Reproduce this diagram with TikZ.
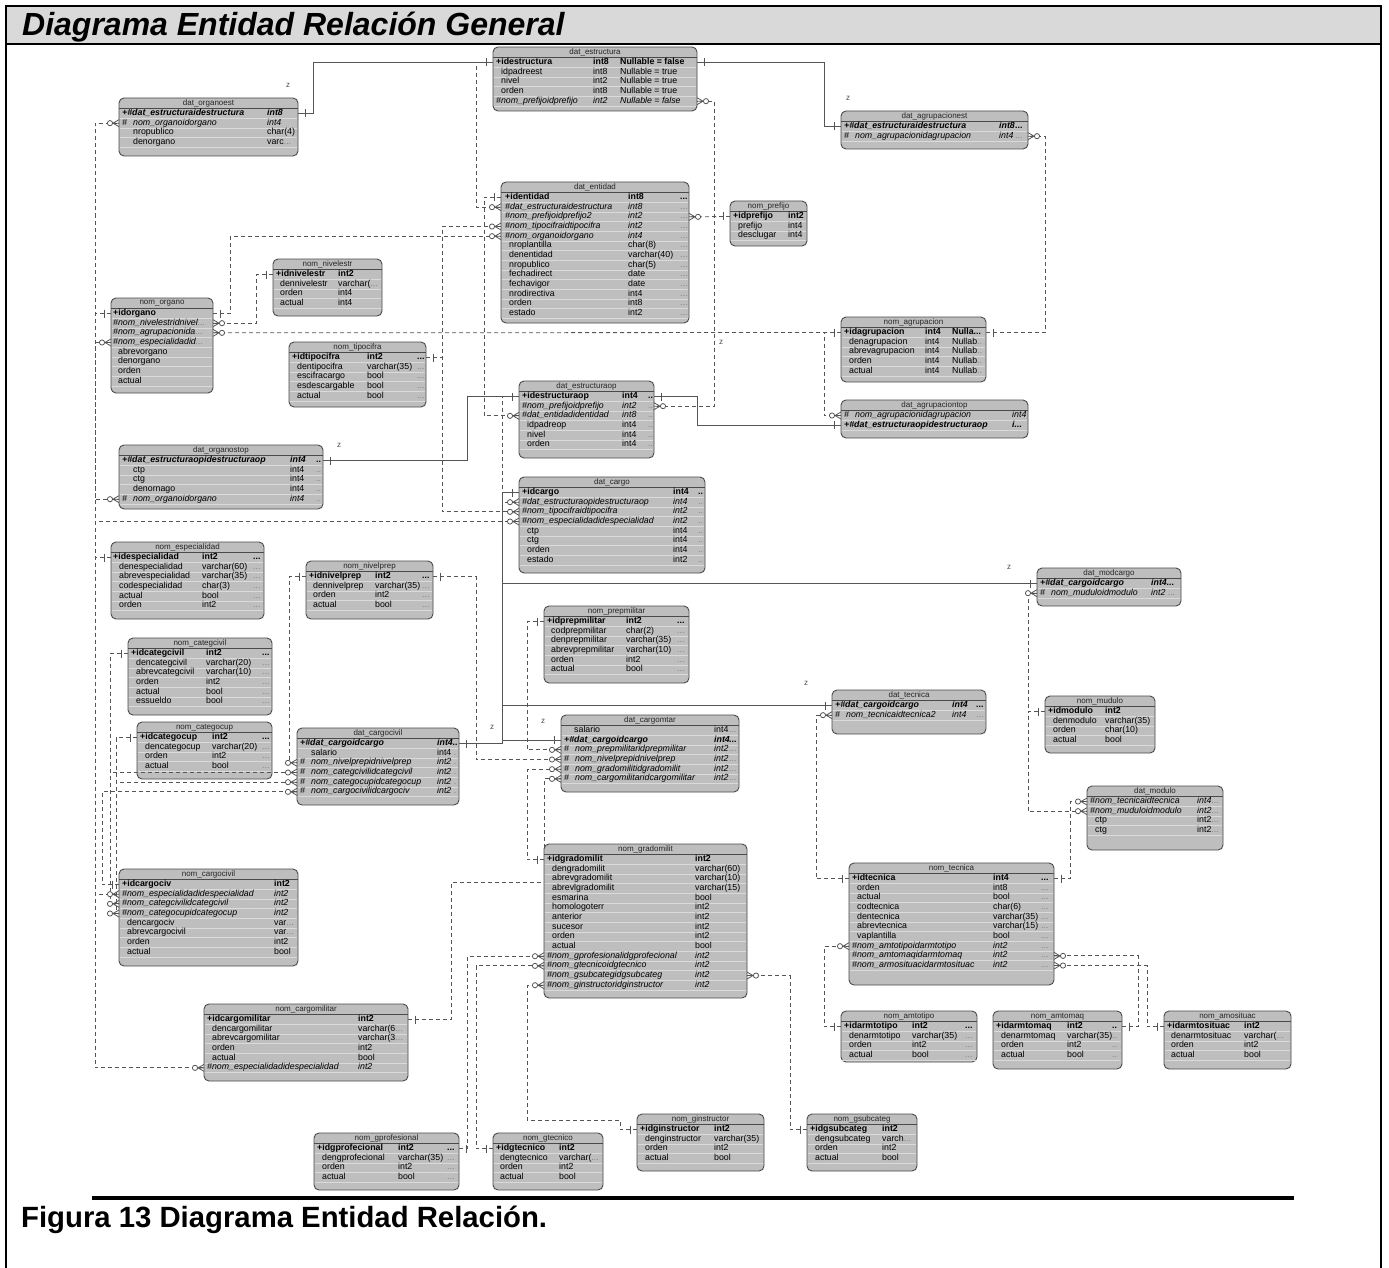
\documentclass[tikz,border=0pt]{standalone}
\usepackage{fontspec}
\setmainfont{Liberation Sans}
\usetikzlibrary{positioning,backgrounds}
\definecolor{boxgray}{HTML}{BEBEBE}
\definecolor{edgegray}{HTML}{4A4A4A}
\definecolor{stripe}{HTML}{DADADA}
\definecolor{linkgray}{HTML}{555555}
\definecolor{bandgray}{HTML}{D9D9D9}
\definecolor{dotgray}{HTML}{808080}

\newcommand{\pk}[1]{\textbf{#1}}
\newcommand{\fk}[1]{\textit{#1}}
\newcommand{\pfk}[1]{\textbf{\textit{#1}}}
\newcommand{\gd}[1]{\textcolor{dotgray}{#1}}
\newcommand{\hsh}{\makebox[11pt][l]{\#}}

% one table: name, left, top, right, bottom, type column, extra column
\newcommand{\erentity}[7]{%
    \node[entityBox, minimum width=#4pt-#2pt, minimum height=#5pt-#3pt] (#1) at (#2,#3) {};
    \node[headStyle] (#1-head) at ({(#2+#4)/2},{#3+5.5}) {\detokenize{#1}};
    \draw[headRule] (#2,{#3+10.8}) -- (#4,{#3+10.8});
    \gdef\curent{#1}\gdef\curleft{#2}\gdef\curtop{#3}\gdef\curright{#4}%
    \gdef\curtype{#6}\gdef\curextra{#7}%
}
% one row: index, name offset, name, type, extra
\newcommand{\erow}[5]{%
    \pgfmathsetmacro{\rowy}{\curtop+15.5+#1*9.67}%
    \draw[rowRule] ({\curleft+1},{\rowy+4.8}) -- ({\curright-1},{\rowy+4.8});
    \node[rowStyle] (\curent-#1) at ({\curleft+#2},\rowy) {#3};
    \ifx&#4&\else\node[rowStyle] (\curent-#1-t) at (\curtype,\rowy) {#4};\fi
    \ifx&#5&\else\node[rowStyle] (\curent-#1-x) at (\curextra,\rowy) {#5};\fi
}
\newcommand{\manymark}[2]{%
    \begin{scope}[shift={(#1)}, xscale=#2]
        \draw[markStyle] (0,-3.5) -- (6,0) -- (0,3.5) (0,0) -- (6,0);
        \draw[markStyle, fill=white] (9,0) circle (2.6pt);
    \end{scope}}
\newcommand{\onemark}[2]{%
    \begin{scope}[shift={(#1)}, xscale=#2]
        \draw[markStyle] (7,-4) -- (7,4);
    \end{scope}}

\begin{document}
\begin{tikzpicture}[
    x=1pt, y=-1pt,
    entityBox/.style={rectangle, rounded corners=5pt, draw=edgegray, fill=boxgray, line width=0.9pt, anchor=north west, inner sep=0pt, outer sep=0pt},
    headStyle/.style={inner sep=0pt, font=\fontsize{8}{9}\selectfont, text=black!85},
    headRule/.style={draw=edgegray, line width=1pt},
    rowRule/.style={draw=stripe, line width=0.8pt},
    rowStyle/.style={anchor=west, inner sep=0pt, font=\fontsize{8.8}{9}\selectfont, text height=6pt, text depth=1.8pt},
    idLine/.style={draw=linkgray, line width=1pt},
    fkLine/.style={draw=linkgray, line width=0.8pt, dash pattern=on 4pt off 3pt},
    markStyle/.style={draw=linkgray, line width=0.8pt},
    zStyle/.style={inner sep=0pt, font=\fontsize{8}{9}\selectfont, text=black!70}
]
    \useasboundingbox (0,0) rectangle (1389,1268);

    \node[anchor=base west, inner sep=0pt, font=\fontsize{32}{34}\selectfont\bfseries\itshape] (title) at (22,36) {Diagrama Entidad Relación General};
    \node[anchor=base west, inner sep=0pt, font=\fontsize{29.3}{31}\selectfont\bfseries] (caption) at (21,1227) {Figura 13 Diagrama Entidad Relación.};
    \draw[line width=4.5pt] (92,1198) -- (1294,1198);

    % ---- tables ----
    \erentity{dat_estructura}{493}{47}{697}{111}{593}{620}
    \erow{0}{3}{\pk{+idestructura}}{\pk{int8}}{\pk{Nullable = false}}
    \erow{1}{8}{idpadreest}{int8}{Nullable = true}
    \erow{2}{8}{nivel}{int2}{Nullable = true}
    \erow{3}{8}{orden}{int8}{Nullable = true}
    \erow{4}{3}{\fk{\#nom\_prefijoidprefijo}}{\fk{int2}}{\fk{Nullable = false}}

    \erentity{dat_organoest}{119}{98}{298}{156}{267}{0}
    \erow{0}{3}{\pfk{+\#dat\_estructuraidestructura}}{\pfk{int8}}{}
    \erow{1}{3}{\fk{\hsh nom\_organoidorgano}}{\fk{int4}}{}
    \erow{2}{14}{nropublico}{char(4)}{}
    \erow{3}{14}{denorgano}{varc\gd{...}}{}

    \erentity{dat_agrupacionest}{841}{111}{1028}{149}{999}{1015}
    \erow{0}{3}{\pfk{+\#dat\_estructuraidestructura}}{\pfk{int8}}{\pk{...}}
    \erow{1}{3}{\fk{\hsh nom\_agrupacionidagrupacion}}{\fk{int4}}{\gd{...}}

    \erentity{dat_entidad}{501}{182}{689}{323}{628}{680}
    \erow{0}{4}{\pk{+identidad}}{\pk{int8}}{\pk{...}}
    \erow{1}{4}{\fk{\#dat\_estructuraidestructura}}{\fk{int8}}{\gd{...}}
    \erow{2}{4}{\fk{\#nom\_prefijoidprefijo2}}{\fk{int2}}{\gd{...}}
    \erow{3}{4}{\fk{\#nom\_tipocifraidtipocifra}}{\fk{int2}}{\gd{...}}
    \erow{4}{4}{\fk{\#nom\_organoidorgano}}{\fk{int4}}{\gd{...}}
    \erow{5}{8}{nroplantilla}{char(8)}{\gd{...}}
    \erow{6}{8}{denentidad}{varchar(40)}{\gd{...}}
    \erow{7}{8}{nropublico}{char(5)}{\gd{...}}
    \erow{8}{8}{fechadirect}{date}{\gd{...}}
    \erow{9}{8}{fechavigor}{date}{\gd{...}}
    \erow{10}{8}{nrodirectiva}{int4}{\gd{...}}
    \erow{11}{8}{orden}{int8}{\gd{...}}
    \erow{12}{8}{estado}{int2}{\gd{...}}

    \erentity{nom_prefijo}{730}{201}{807}{246}{788}{0}
    \erow{0}{3}{\pk{+idprefijo}}{\pk{int2}}{}
    \erow{1}{8}{prefijo}{int4}{}
    \erow{2}{8}{desclugar}{int4}{}

    \erentity{nom_nivelestr}{273}{259}{382}{316}{338}{0}
    \erow{0}{3}{\pk{+idnivelestr}}{\pk{int2}}{}
    \erow{1}{7}{dennivelestr}{varchar(\gd{...}}{}
    \erow{2}{7}{orden}{int4}{}
    \erow{3}{7}{actual}{int4}{}

    \erentity{nom_organo}{111}{298}{213}{393}{0}{0}
    \erow{0}{2}{\pk{+idorgano}}{}{}
    \erow{1}{2}{\fk{\#nom\_nivelestridnivel\gd{...}}}{}{}
    \erow{2}{2}{\fk{\#nom\_agrupacionida\gd{...}}}{}{}
    \erow{3}{2}{\fk{\#nom\_especialidadid\gd{...}}}{}{}
    \erow{4}{7}{abrevorgano}{}{}
    \erow{5}{7}{denorgano}{}{}
    \erow{6}{7}{orden}{}{}
    \erow{7}{7}{actual}{}{}

    \erentity{nom_tipocifra}{289}{342}{426}{407}{367}{417}
    \erow{0}{3}{\pk{+idtipocifra}}{\pk{int2}}{\pk{...}}
    \erow{1}{8}{dentipocifra}{varchar(35)}{\gd{...}}
    \erow{2}{8}{escifracargo}{bool}{\gd{...}}
    \erow{3}{8}{esdescargable}{bool}{\gd{...}}
    \erow{4}{8}{actual}{bool}{\gd{...}}

    \erentity{nom_agrupacion}{841}{317}{986}{382}{925}{952}
    \erow{0}{3}{\pk{+idagrupacion}}{\pk{int4}}{\pk{Nulla...}}
    \erow{1}{8}{denagrupacion}{int4}{Nullab\gd{..}}
    \erow{2}{8}{abrevagrupacion}{int4}{Nullab\gd{..}}
    \erow{3}{8}{orden}{int4}{Nullab\gd{..}}
    \erow{4}{8}{actual}{int4}{Nullab\gd{..}}

    \erentity{dat_agrupaciontop}{841}{400}{1028}{438}{1012}{0}
    \erow{0}{3}{\fk{\hsh nom\_agrupacionidagrupacion}}{\fk{int4}}{}
    \erow{1}{3}{\pfk{+\#dat\_estructuraopidestructuraop}}{\pfk{i...}}{}

    \erentity{dat_estructuraop}{519}{381}{654}{458}{622}{648}
    \erow{0}{3}{\pk{+idestructuraop}}{\pk{int4}}{\pk{..}}
    \erow{1}{3}{\fk{\#nom\_prefijoidprefijo}}{\fk{int2}}{\gd{..}}
    \erow{2}{3}{\fk{\#dat\_entidadidentidad}}{\fk{int8}}{\gd{..}}
    \erow{3}{8}{idpadreop}{int4}{\gd{..}}
    \erow{4}{8}{nivel}{int4}{\gd{..}}
    \erow{5}{8}{orden}{int4}{\gd{..}}

    \erentity{dat_organostop}{119}{445}{323}{509}{290}{316}
    \erow{0}{3}{\pfk{+\#dat\_estructuraopidestructuraop}}{\pfk{int4}}{\pk{..}}
    \erow{1}{14}{ctp}{int4}{\gd{..}}
    \erow{2}{14}{ctg}{int4}{\gd{..}}
    \erow{3}{14}{denornago}{int4}{\gd{..}}
    \erow{4}{3}{\fk{\hsh nom\_organoidorgano}}{\fk{int4}}{\gd{..}}

    \erentity{dat_cargo}{519}{477}{705}{573}{673}{698}
    \erow{0}{3}{\pk{+idcargo}}{\pk{int4}}{\pk{..}}
    \erow{1}{3}{\fk{\#dat\_estructuraopidestructuraop}}{\fk{int4}}{\gd{..}}
    \erow{2}{3}{\fk{\#nom\_tipocifraidtipocifra}}{\fk{int2}}{\gd{..}}
    \erow{3}{3}{\fk{\#nom\_especialidadidespecialidad}}{\fk{int2}}{\gd{..}}
    \erow{4}{8}{ctp}{int4}{\gd{..}}
    \erow{5}{8}{ctg}{int4}{\gd{..}}
    \erow{6}{8}{orden}{int4}{\gd{..}}
    \erow{7}{8}{estado}{int2}{\gd{..}}

    \erentity{nom_especialidad}{111}{542}{264}{619}{202}{253}
    \erow{0}{2}{\pk{+idespecialidad}}{\pk{int2}}{\pk{...}}
    \erow{1}{8}{denespecialidad}{varchar(60)}{\gd{...}}
    \erow{2}{8}{abrevespecialidad}{varchar(35)}{\gd{...}}
    \erow{3}{8}{codespecialidad}{char(3)}{\gd{...}}
    \erow{4}{8}{actual}{bool}{\gd{...}}
    \erow{5}{8}{orden}{int2}{\gd{...}}

    \erentity{nom_nivelprep}{306}{561}{433}{619}{375}{422}
    \erow{0}{3}{\pk{+idnivelprep}}{\pk{int2}}{\pk{...}}
    \erow{1}{7}{dennivelprep}{varchar(35)}{\gd{...}}
    \erow{2}{7}{orden}{int2}{\gd{...}}
    \erow{3}{7}{actual}{bool}{\gd{...}}

    \erentity{nom_prepmilitar}{544}{606}{689}{683}{626}{677}
    \erow{0}{3}{\pk{+idprepmilitar}}{\pk{int2}}{\pk{...}}
    \erow{1}{7}{codprepmilitar}{char(2)}{\gd{...}}
    \erow{2}{7}{denprepmilitar}{varchar(35)}{\gd{...}}
    \erow{3}{7}{abrevprepmilitar}{varchar(10)}{\gd{...}}
    \erow{4}{7}{orden}{int2}{\gd{...}}
    \erow{5}{7}{actual}{bool}{\gd{...}}

    \erentity{nom_categcivil}{128}{638}{272}{715}{206}{262}
    \erow{0}{3}{\pk{+idcategcivil}}{\pk{int2}}{\pk{...}}
    \erow{1}{8}{dencategcivil}{varchar(20)}{\gd{...}}
    \erow{2}{8}{abrevcategcivil}{varchar(10)}{\gd{...}}
    \erow{3}{8}{orden}{int2}{\gd{...}}
    \erow{4}{8}{actual}{bool}{\gd{...}}
    \erow{5}{8}{essueldo}{bool}{\gd{...}}

    \erentity{nom_categocup}{137}{722}{272}{779}{212}{262}
    \erow{0}{3}{\pk{+idcategocup}}{\pk{int2}}{\pk{...}}
    \erow{1}{8}{dencategocup}{varchar(20)}{\gd{...}}
    \erow{2}{8}{orden}{int2}{\gd{...}}
    \erow{3}{8}{actual}{bool}{\gd{...}}

    \erentity{dat_cargocivil}{297}{728}{459}{805}{437}{0}
    \erow{0}{3}{\pfk{+\#dat\_cargoidcargo}}{\pfk{int4..}}{}
    \erow{1}{14}{salario}{int4 \gd{.}}{}
    \erow{2}{3}{\fk{\hsh nom\_nivelprepidnivelprep}}{\fk{int2} \gd{.}}{}
    \erow{3}{3}{\fk{\hsh nom\_categcivilidcategcivil}}{\fk{int2} \gd{.}}{}
    \erow{4}{3}{\fk{\hsh nom\_categocupidcategocup}}{\fk{int2} \gd{.}}{}
    \erow{5}{3}{\fk{\hsh nom\_cargocivilidcargociv}}{\fk{int2} \gd{.}}{}

    \erentity{dat_cargomtar}{561}{715}{739}{792}{714}{729}
    \erow{0}{13}{salario}{int4}{\gd{...}}
    \erow{1}{3}{\pfk{+\#dat\_cargoidcargo}}{\pfk{int4}}{\pk{...}}
    \erow{2}{3}{\fk{\hsh nom\_prepmilitaridprepmilitar}}{\fk{int2}}{\gd{...}}
    \erow{3}{3}{\fk{\hsh nom\_nivelprepidnivelprep}}{\fk{int2}}{\gd{...}}
    \erow{4}{3}{\fk{\hsh nom\_gradomilitidgradomilit}}{\fk{int2}}{\gd{...}}
    \erow{5}{3}{\fk{\hsh nom\_cargomilitaridcargomilitar}}{\fk{int2}}{\gd{...}}

    \erentity{dat_tecnica}{832}{690}{986}{734}{952}{976}
    \erow{0}{3}{\pfk{+\#dat\_cargoidcargo}}{\pfk{int4}}{\pk{...}}
    \erow{1}{3}{\fk{\hsh nom\_tecnicaidtecnica2}}{\fk{int4}}{\gd{...}}

    \erentity{dat_modcargo}{1037}{568}{1181}{606}{1151}{0}
    \erow{0}{3}{\pfk{+\#dat\_cargoidcargo}}{\pfk{int4...}}{}
    \erow{1}{3}{\fk{\hsh nom\_muduloidmodulo}}{\fk{int2} \gd{...}}{}

    \erentity{nom_mudulo}{1045}{696}{1155}{753}{1105}{0}
    \erow{0}{3}{\pk{+idmodulo}}{\pk{int2}}{}
    \erow{1}{8}{denmodulo}{varchar(35)}{}
    \erow{2}{8}{orden}{char(10)}{}
    \erow{3}{8}{actual}{bool}{}

    \erentity{dat_modulo}{1087}{786}{1223}{850}{1197}{0}
    \erow{0}{3}{\fk{\#nom\_tecnicaidtecnica}}{\fk{int4}\gd{...}}{}
    \erow{1}{3}{\fk{\#nom\_muduloidmodulo}}{\fk{int2}\gd{...}}{}
    \erow{2}{8}{ctp}{int2\gd{...}}{}
    \erow{3}{8}{ctg}{int2\gd{...}}{}

    \erentity{nom_tecnica}{849}{863}{1054}{985}{993}{1041}
    \erow{0}{3}{\pk{+idtecnica}}{\pk{int4}}{\pk{...}}
    \erow{1}{8}{orden}{int8}{\gd{...}}
    \erow{2}{8}{actual}{bool}{\gd{...}}
    \erow{3}{8}{codtecnica}{char(6)}{\gd{...}}
    \erow{4}{8}{dentecnica}{varchar(35)}{\gd{...}}
    \erow{5}{8}{abrevtecnica}{varchar(15)}{\gd{...}}
    \erow{6}{8}{vaplantilla}{bool}{\gd{...}}
    \erow{7}{3}{\fk{\#nom\_amtotipoidarmtotipo}}{\fk{int2}}{\gd{...}}
    \erow{8}{3}{\fk{\#nom\_amtomaqidarmtomaq}}{\fk{int2}}{\gd{...}}
    \erow{9}{3}{\fk{\#nom\_armosituacidarmtosituac}}{\fk{int2}}{\gd{...}}

    \erentity{nom_gradomilit}{544}{844}{747}{998}{695}{0}
    \erow{0}{3}{\pk{+idgradomilit}}{\pk{int2}}{}
    \erow{1}{8}{dengradomilit}{varchar(60)}{}
    \erow{2}{8}{abrevgradomilit}{varchar(10)}{}
    \erow{3}{8}{abrevlgradomilit}{varchar(15)}{}
    \erow{4}{8}{esmarina}{bool}{}
    \erow{5}{8}{homologoterr}{int2}{}
    \erow{6}{8}{anterior}{int2}{}
    \erow{7}{8}{sucesor}{int2}{}
    \erow{8}{8}{orden}{int2}{}
    \erow{9}{8}{actual}{bool}{}
    \erow{10}{3}{\fk{\#nom\_gprofesionalidgprofecional}}{\fk{int2}}{}
    \erow{11}{3}{\fk{\#nom\_gtecnicoidgtecnico}}{\fk{int2}}{}
    \erow{12}{3}{\fk{\#nom\_gsubcategidgsubcateg}}{\fk{int2}}{}
    \erow{13}{3}{\fk{\#nom\_ginstructoridginstructor}}{\fk{int2}}{}

    \erentity{nom_amtotipo}{841}{1011}{977}{1062}{912}{965}
    \erow{0}{3}{\pk{+idarmtotipo}}{\pk{int2}}{\pk{...}}
    \erow{1}{8}{denarmtotipo}{varchar(35)}{\gd{...}}
    \erow{2}{8}{orden}{int2}{\gd{...}}
    \erow{3}{8}{actual}{bool}{\gd{...}}

    \erentity{nom_amtomaq}{993}{1011}{1122}{1069}{1067}{1112}
    \erow{0}{3}{\pk{+idarmtomaq}}{\pk{int2}}{\pk{..}}
    \erow{1}{8}{denarmtomaq}{varchar(35)}{\gd{..}}
    \erow{2}{8}{orden}{int2}{\gd{..}}
    \erow{3}{8}{actual}{bool}{\gd{..}}

    \erentity{nom_amosituac}{1164}{1011}{1291}{1069}{1244}{0}
    \erow{0}{3}{\pk{+idarmtosituac}}{\pk{int2}}{}
    \erow{1}{7}{denarmtosituac}{varchar(\gd{...}}{}
    \erow{2}{7}{orden}{int2}{}
    \erow{3}{7}{actual}{bool}{}

    \erentity{nom_cargocivil}{119}{869}{298}{966}{274}{0}
    \erow{0}{3}{\pk{+idcargociv}}{\pk{int2}}{}
    \erow{1}{3}{\fk{\#nom\_especialidadidespecialidad}}{\fk{int2}}{}
    \erow{2}{3}{\fk{\#nom\_categcivilidcategcivil}}{\fk{int2}}{}
    \erow{3}{3}{\fk{\#nom\_categocupidcategocup}}{\fk{int2}}{}
    \erow{4}{8}{dencargociv}{var\gd{...}}{}
    \erow{5}{8}{abrevcargocivil}{var\gd{...}}{}
    \erow{6}{8}{orden}{int2}{}
    \erow{7}{8}{actual}{bool}{}

    \erentity{nom_cargomilitar}{204}{1004}{408}{1081}{358}{0}
    \erow{0}{3}{\pk{+idcargomilitar}}{\pk{int2}}{}
    \erow{1}{8}{dencargomilitar}{varchar(6\gd{...}}{}
    \erow{2}{8}{abrevcargomilitar}{varchar(3\gd{...}}{}
    \erow{3}{8}{orden}{int2}{}
    \erow{4}{8}{actual}{bool}{}
    \erow{5}{3}{\fk{\#nom\_especialidadidespecialidad}}{\fk{int2}}{}

    \erentity{nom_gprofesional}{314}{1133}{459}{1190}{398}{447}
    \erow{0}{3}{\pk{+idgprofecional}}{\pk{int2}}{\pk{...}}
    \erow{1}{8}{dengprofecional}{varchar(35)}{\gd{...}}
    \erow{2}{8}{orden}{int2}{\gd{...}}
    \erow{3}{8}{actual}{bool}{\gd{...}}

    \erentity{nom_gtecnico}{493}{1133}{603}{1190}{559}{0}
    \erow{0}{3}{\pk{+idgtecnico}}{\pk{int2}}{}
    \erow{1}{7}{dengtecnico}{varchar(\gd{...}}{}
    \erow{2}{7}{orden}{int2}{}
    \erow{3}{7}{actual}{bool}{}

    \erentity{nom_ginstructor}{637}{1114}{764}{1171}{714}{0}
    \erow{0}{3}{\pk{+idginstructor}}{\pk{int2}}{}
    \erow{1}{8}{denginstructor}{varchar(35)}{}
    \erow{2}{8}{orden}{int2}{}
    \erow{3}{8}{actual}{bool}{}

    \erentity{nom_gsubcateg}{807}{1114}{917}{1171}{882}{0}
    \erow{0}{3}{\pk{+idgsubcateg}}{\pk{int2}}{}
    \erow{1}{8}{dengsubcateg}{varch\gd{...}}{}
    \erow{2}{8}{orden}{int2}{}
    \erow{3}{8}{actual}{bool}{}

    % ---- frame and relationships, under the tables ----
    \begin{scope}[on background layer]
        \fill[bandgray] (6,6) rectangle (1381,44);
        \draw[line width=2pt] (6,1268) -- (6,6) -- (1381,6) -- (1381,1268);
        \draw[line width=2pt] (6,44) -- (1381,44);

        \draw[idLine] (dat_estructura.west |- dat_estructura-0) -| (313,0 |- dat_organoest-0) -- (dat_organoest.east |- dat_organoest-0);
        \draw[idLine] (dat_estructura.east |- dat_estructura-0) -| (824,0 |- dat_agrupacionest-0) -- (dat_agrupacionest.west |- dat_agrupacionest-0);
        \draw[idLine] (dat_estructuraop.west |- dat_estructuraop-0) -| (467,0 |- dat_organostop-0) -- (dat_organostop.east |- dat_organostop-0);
        \draw[idLine] (dat_estructuraop.east |- dat_estructuraop-0) -| (697,0 |- dat_agrupaciontop-1) -- (dat_agrupaciontop.west |- dat_agrupaciontop-1);
        \draw[idLine] (dat_cargo.west |- dat_cargo-0) -| (502,0 |- dat_modcargo-0) -- (dat_modcargo.west |- dat_modcargo-0);
        \draw[idLine] (dat_cargo.west |- dat_cargo-0) -| (502,0 |- dat_tecnica-0) -- (dat_tecnica.west |- dat_tecnica-0);
        \draw[idLine] (dat_cargo.west |- dat_cargo-0) -| (502,0 |- dat_cargocivil-0) -- (dat_cargocivil.east |- dat_cargocivil-0);
        \draw[idLine] (dat_cargo.west |- dat_cargo-0) -| (502,0 |- dat_cargomtar-1) -- (dat_cargomtar.west |- dat_cargomtar-1);

        \draw[fkLine] (nom_prefijo.west |- nom_prefijo-0) -| (714,0 |- dat_estructura-4) -- (dat_estructura.east |- dat_estructura-4);
        \draw[fkLine] (nom_prefijo.west |- nom_prefijo-0) -- (dat_entidad.east |- dat_entidad-2);
        \draw[fkLine] (nom_prefijo.west |- nom_prefijo-0) -| (714,0 |- dat_estructuraop-1) -- (dat_estructuraop.east |- dat_estructuraop-1);
        \draw[fkLine] (nom_agrupacion.east |- nom_agrupacion-0) -| (1045,0 |- dat_agrupacionest-1) -- (dat_agrupacionest.east |- dat_agrupacionest-1);
        \draw[fkLine] (nom_agrupacion.west |- nom_agrupacion-0) -| (824,0 |- dat_agrupaciontop-0) -- (dat_agrupaciontop.west |- dat_agrupaciontop-0);
        \draw[fkLine] (nom_agrupacion.west |- nom_agrupacion-0) -- (nom_organo.east |- nom_organo-2);
        \draw[fkLine] (nom_nivelestr.west |- nom_nivelestr-0) -| (256,0 |- nom_organo-1) -- (nom_organo.east |- nom_organo-1);
        \draw[fkLine] (nom_organo.east |- nom_organo-0) -| (230,0 |- dat_entidad-4) -- (dat_entidad.west |- dat_entidad-4);
        \draw[fkLine] (nom_organo.west |- nom_organo-0) -| (95,0 |- dat_organoest-1) -- (dat_organoest.west |- dat_organoest-1);
        \draw[fkLine] (nom_organo.west |- nom_organo-0) -| (95,0 |- dat_organostop-4) -- (dat_organostop.west |- dat_organostop-4);
        \draw[fkLine] (nom_tipocifra.east |- nom_tipocifra-0) -| (442,0 |- dat_entidad-3) -- (dat_entidad.west |- dat_entidad-3);
        \draw[fkLine] (nom_tipocifra.east |- nom_tipocifra-0) -| (442,0 |- dat_cargo-2) -- (dat_cargo.west |- dat_cargo-2);
        \draw[fkLine] (nom_especialidad.west |- nom_especialidad-0) -| (95,0 |- nom_organo-3) -- (nom_organo.west |- nom_organo-3);
        \draw[fkLine] (nom_especialidad.west |- nom_especialidad-0) -| (95,0 |- dat_cargo-3) -- (dat_cargo.west |- dat_cargo-3);
        \draw[fkLine] (nom_especialidad.west |- nom_especialidad-0) -| (95,0 |- nom_cargocivil-1) -- (nom_cargocivil.west |- nom_cargocivil-1);
        \draw[fkLine] (nom_especialidad.west |- nom_especialidad-0) -| (95,0 |- nom_cargomilitar-5) -- (nom_cargomilitar.west |- nom_cargomilitar-5);
        \draw[fkLine] (nom_nivelprep.west |- nom_nivelprep-0) -| (289,0 |- dat_cargocivil-2) -- (dat_cargocivil.west |- dat_cargocivil-2);
        \draw[fkLine] (nom_nivelprep.east |- nom_nivelprep-0) -| (476,0 |- dat_cargomtar-3) -- (dat_cargomtar.west |- dat_cargomtar-3);
        \draw[fkLine] (nom_prepmilitar.west |- nom_prepmilitar-0) -| (527,0 |- dat_cargomtar-2) -- (dat_cargomtar.west |- dat_cargomtar-2);
        \draw[fkLine] (nom_gradomilit.west |- nom_gradomilit-0) -| (527,0 |- dat_cargomtar-4) -- (dat_cargomtar.west |- dat_cargomtar-4);
        \draw[fkLine] (nom_cargomilitar.east |- nom_cargomilitar-0) -| (451,882) -| (544,0 |- dat_cargomtar-5) -- (dat_cargomtar.west |- dat_cargomtar-5);
        \draw[fkLine] (nom_categcivil.west |- nom_categcivil-0) -| (110,0 |- nom_cargocivil-2) -- (nom_cargocivil.west |- nom_cargocivil-2);
        \draw[fkLine] (nom_categocup.west |- nom_categocup-0) -| (116,0 |- dat_cargocivil-4) -- (dat_cargocivil.west |- dat_cargocivil-4);
        \draw[fkLine] (nom_categocup.west |- nom_categocup-0) -| (116,0 |- nom_cargocivil-3) -- (nom_cargocivil.west |- nom_cargocivil-3);
        \draw[fkLine] (nom_cargocivil.west |- nom_cargocivil-0) -| (102,0 |- dat_cargocivil-5) -- (dat_cargocivil.west |- dat_cargocivil-5);
        \draw[fkLine] (dat_estructura.west |- dat_estructura-0) -| (476,0 |- dat_entidad-1) -- (dat_entidad.west |- dat_entidad-1);
        \draw[fkLine] (dat_entidad.west |- dat_entidad-0) -| (484,0 |- dat_estructuraop-2) -- (dat_estructuraop.west |- dat_estructuraop-2);
        \draw[fkLine] (dat_estructuraop.west |- dat_estructuraop-0) -| (502,0 |- dat_cargo-1) -- (dat_cargo.west |- dat_cargo-1);
        \draw[fkLine] (nom_tecnica.west |- nom_tecnica-0) -| (816,0 |- dat_tecnica-1) -- (dat_tecnica.west |- dat_tecnica-1);
        \draw[fkLine] (nom_mudulo.west |- nom_mudulo-0) -| (1028,0 |- dat_modcargo-1) -- (dat_modcargo.west |- dat_modcargo-1);
        \draw[fkLine] (nom_mudulo.west |- nom_mudulo-0) -| (1028,0 |- dat_modulo-1) -- (dat_modulo.west |- dat_modulo-1);
        \draw[fkLine] (nom_tecnica.east |- nom_tecnica-0) -| (1070,0 |- dat_modulo-0) -- (dat_modulo.west |- dat_modulo-0);
        \draw[fkLine] (nom_amtotipo.west |- nom_amtotipo-0) -| (824,0 |- nom_tecnica-7) -- (nom_tecnica.west |- nom_tecnica-7);
        \draw[fkLine] (nom_amtomaq.east |- nom_amtomaq-0) -| (1138,0 |- nom_tecnica-8) -- (nom_tecnica.east |- nom_tecnica-8);
        \draw[fkLine] (nom_amosituac.west |- nom_amosituac-0) -| (1147,0 |- nom_tecnica-9) -- (nom_tecnica.east |- nom_tecnica-9);
        \draw[fkLine] (nom_gprofesional.east |- nom_gprofesional-0) -| (467,0 |- nom_gradomilit-10) -- (nom_gradomilit.west |- nom_gradomilit-10);
        \draw[fkLine] (nom_gtecnico.west |- nom_gtecnico-0) -| (476,0 |- nom_gradomilit-11) -- (nom_gradomilit.west |- nom_gradomilit-11);
        \draw[fkLine] (nom_gsubcateg.west |- nom_gsubcateg-0) -| (790,0 |- nom_gradomilit-12) -- (nom_gradomilit.east |- nom_gradomilit-12);
        \draw[fkLine] (nom_ginstructor.west |- nom_ginstructor-0) -| (620,1120) -| (527,0 |- nom_gradomilit-13) -- (nom_gradomilit.west |- nom_gradomilit-13);
    \end{scope}

    % this one runs over nom_categocup
    \draw[fkLine] (nom_categcivil.west |- nom_categcivil-0) -| (110,0 |- dat_cargocivil-3) -- (dat_cargocivil.west |- dat_cargocivil-3);

    % ---- cardinality marks ----
    \foreach \ent/\rw in {dat_agrupaciontop/0, dat_entidad/1, dat_entidad/3, dat_entidad/4, dat_organoest/1, dat_organostop/4,
        dat_cargo/1, dat_cargo/2, dat_cargo/3, nom_organo/3, nom_cargocivil/1, nom_cargocivil/2, nom_cargocivil/3, nom_cargomilitar/5,
        dat_cargocivil/2, dat_cargocivil/3, dat_cargocivil/4, dat_cargocivil/5, dat_cargomtar/2, dat_cargomtar/3, dat_cargomtar/4,
        dat_cargomtar/5, dat_estructuraop/2, dat_tecnica/1, dat_modcargo/1, dat_modulo/0, dat_modulo/1, nom_tecnica/7,
        nom_gradomilit/10, nom_gradomilit/11, nom_gradomilit/13}
        {\manymark{\ent.west |- \ent-\rw}{-1}}
    \foreach \ent/\rw in {dat_estructura/4, dat_entidad/2, dat_estructuraop/1, dat_agrupacionest/1, nom_organo/1, nom_organo/2,
        nom_tecnica/8, nom_tecnica/9, nom_gradomilit/12}
        {\manymark{\ent.east |- \ent-\rw}{1}}
    \foreach \ent/\rw in {dat_estructura/0, dat_agrupacionest/0, dat_estructuraop/0, dat_agrupaciontop/1, dat_cargo/0,
        dat_modcargo/0, dat_tecnica/0, dat_cargomtar/1, nom_prefijo/0, nom_agrupacion/0, nom_nivelestr/0, nom_organo/0,
        nom_especialidad/0, nom_nivelprep/0, nom_prepmilitar/0, nom_gradomilit/0, nom_categcivil/0, nom_categocup/0,
        nom_cargocivil/0, dat_entidad/0, nom_tecnica/0, nom_mudulo/0, nom_amtotipo/0, nom_amosituac/0, nom_gtecnico/0,
        nom_gsubcateg/0, nom_ginstructor/0}
        {\onemark{\ent.west |- \ent-\rw}{-1}}
    \foreach \ent/\rw in {dat_estructura/0, dat_organoest/0, dat_organostop/0, dat_estructuraop/0, dat_cargocivil/0,
        nom_agrupacion/0, nom_organo/0, nom_tipocifra/0, nom_nivelprep/0, nom_cargomilitar/0, nom_tecnica/0,
        nom_amtomaq/0, nom_gprofesional/0}
        {\onemark{\ent.east |- \ent-\rw}{1}}

    \node[zStyle] (zOrganoest) at (288,85) {z};
    \node[zStyle] (zAgrupacionest) at (848,98) {z};
    \node[zStyle] (zPrefijo) at (721,342) {z};
    \node[zStyle] (zOrganostop) at (339,445) {z};
    \node[zStyle] (zCargocivil) at (492,727) {z};
    \node[zStyle] (zCargomtar) at (543,721) {z};
    \node[zStyle] (zTecnica) at (806,683) {z};
    \node[zStyle] (zModcargo) at (1009,567) {z};
\end{tikzpicture}
\end{document}
